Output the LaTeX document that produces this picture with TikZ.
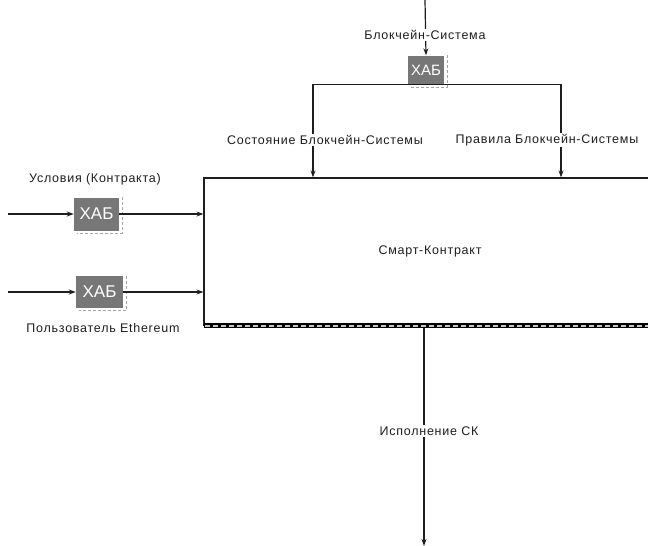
\documentclass[tikz,border=0pt]{standalone}
\usepackage{fontspec}
\setmainfont{Liberation Sans}
\newfontfamily\lblfont{Liberation Sans}[LetterSpace=6]
\usetikzlibrary{arrows.meta,calc}
\definecolor{hubgray}{HTML}{777777}
\definecolor{inkc}{HTML}{1E1E1E}
\begin{document}
\begin{tikzpicture}[x=1pt,y=-1pt,
  conn/.style={draw=inkc,line width=1.2pt},
  arr/.style={conn,-{Stealth[length=7pt,width=5pt]}},
  lblfnt/.style={font=\lblfont\fontsize{12.5}{14}\selectfont},
  lbl/.style={lblfnt,fill=white,inner sep=1.5pt,text=inkc},
  hub/.style={fill=hubgray,draw=none,text=white,inner sep=0pt,font=\fontsize{15}{17}\selectfont},
  hubedge/.style={draw=gray!70,line width=1pt,dash pattern=on 3pt off 2pt},
  mainbox/.style={draw=inkc,line width=1.2pt,inner sep=0pt}]
\useasboundingbox (0,0) rectangle (648,546);
\clip (0,0) rectangle (648,546);

% function block (right side runs off the sheet)
\node[mainbox,minimum width=456pt,minimum height=147pt] (sc) at (432,251.5) {};
\node[lblfnt,text=inkc] (sct) at (430,251) {Смарт-Контракт};
% bottom edge of the block
\draw[line width=4.5pt,black] ([xshift=1pt]sc.south west) -- (sc.south east);
\draw[line width=1.8pt,gray!45,dash pattern=on 5pt off 3pt] ([xshift=2pt]sc.south west) -- (sc.south east);

% hubs
\node[hub,minimum width=36pt,minimum height=29pt] (hubT) at (426,70) {ХАБ};
\node[hub,minimum width=45pt,minimum height=33pt,font=\fontsize{17}{19}\selectfont] (hubA) at (96.5,214) {ХАБ};
\node[hub,minimum width=47pt,minimum height=32pt,font=\fontsize{17}{19}\selectfont] (hubB) at (99.5,292) {ХАБ};
\foreach \h in {hubT,hubA,hubB}
  \draw[hubedge] ([xshift=3pt]\h.north east) -- ([xshift=3pt,yshift=-2.5pt]\h.south east) -- ([xshift=3pt,yshift=-2.5pt]\h.south west);

% free ends
\coordinate (inT) at (425,0);
\coordinate (inA) at (8,214);
\coordinate (inB) at (8,292);
\coordinate (ctrlL) at (313,0);
\coordinate (ctrlR) at (561,0);
\coordinate (outX) at (424,0);
\coordinate (outEnd) at (424,546);

% controls
\draw[arr] (inT) -- (hubT.north);
\draw[arr] (hubT.south) -| (sc.north -| ctrlL);
\draw[arr] (hubT.south) -| (sc.north -| ctrlR);

% inputs
\draw[arr] (inA) -- (hubA.west);
\draw[arr] (hubA.east) -- (hubA.east -| sc.west);
\draw[arr] (inB) -- (hubB.west);
\draw[arr] (hubB.east) -- (hubB.east -| sc.west);

% output
\draw[arr] ([yshift=-2pt]sc.south -| outX) -- (outEnd);

% arrow labels
\node[lbl] (lT) at (425,35) {Блокчейн-Система};
\node[lbl] (lS) at (325,140) {Состояние Блокчейн-Системы};
\node[lbl] (lP) at (547,140) {Правила Блокчейн-Системы};
\node[lbl,fill=none] (lA) at (95,179) {Условия (Контракта)};
\node[lbl,fill=none] (lB) at (103,328) {Пользователь Ethereum};
\node[lbl] (lO) at (429,431) {Исполнение СК};
\end{tikzpicture}
\end{document}
